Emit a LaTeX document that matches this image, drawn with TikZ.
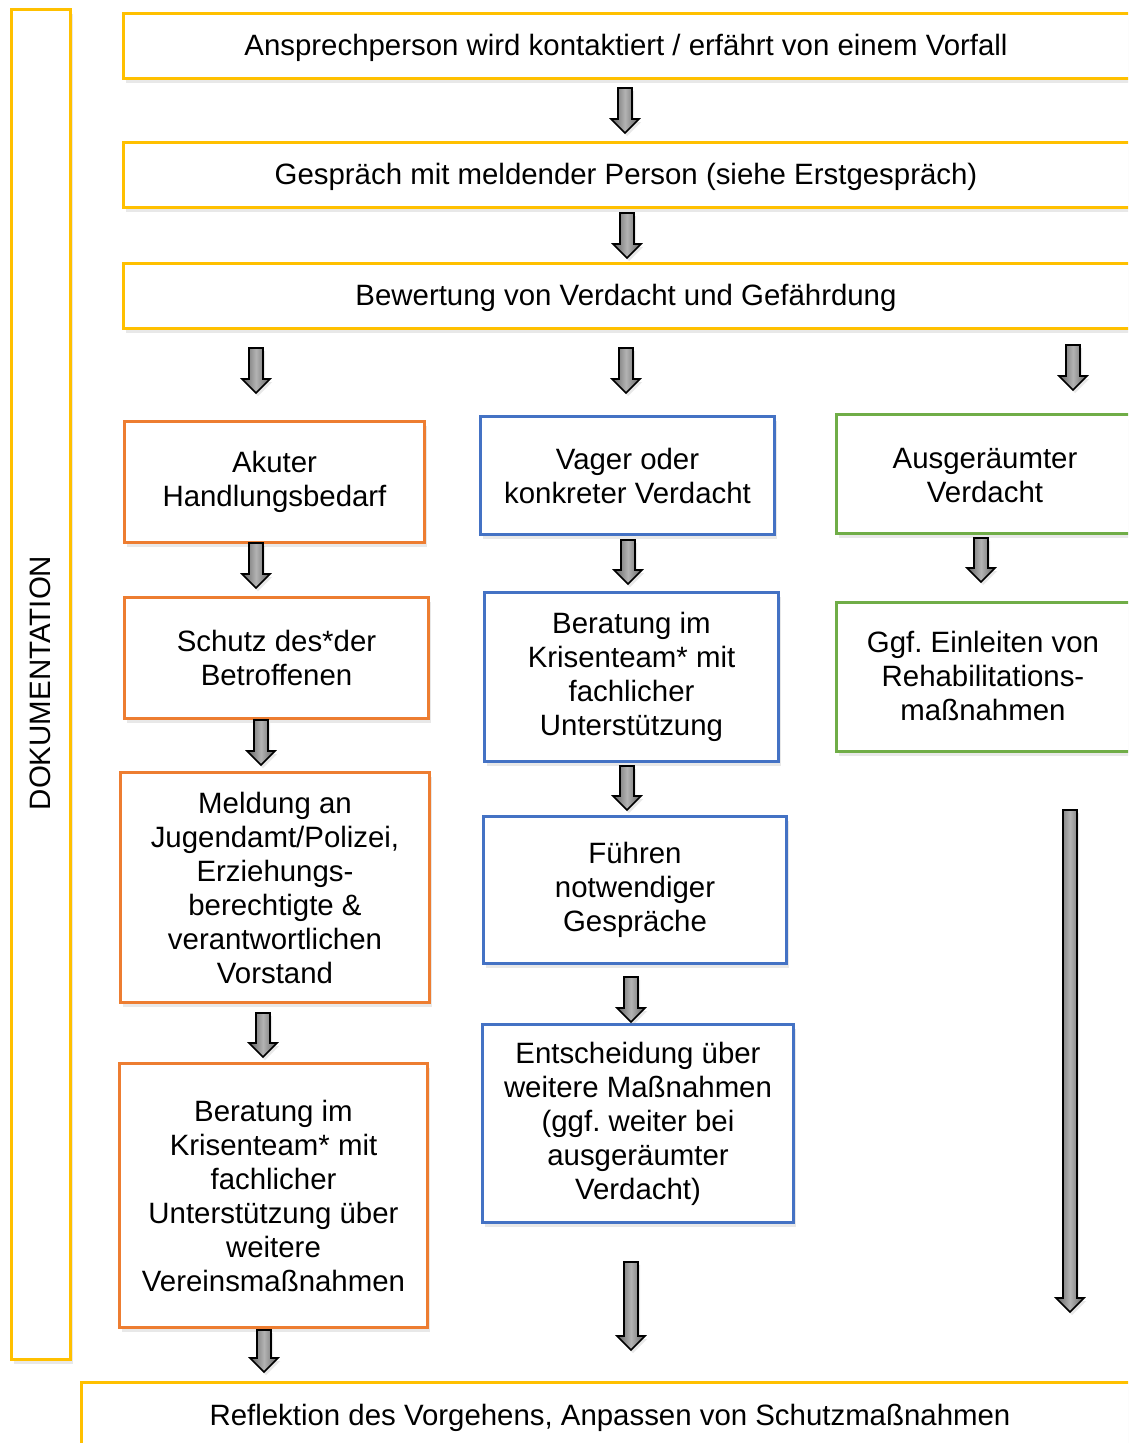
\documentclass[tikz,border=0pt]{standalone}
\usepackage{fontspec}
\setmainfont{Liberation Sans}
\frenchspacing
\usetikzlibrary{shadows}
\definecolor{cyel}{HTML}{FFC000}
\definecolor{cora}{HTML}{ED7D31}
\definecolor{cblu}{HTML}{4472C4}
\definecolor{cgrn}{HTML}{70AD47}
\newcommand\blockarr[3]{%
  \draw[line width=1.6pt, line join=miter, left color=black!62, right color=black!62, middle color=black!30,
        drop shadow={shadow xshift=2pt, shadow yshift=-3pt, opacity=.18}]
    (#1-7,#2) -- (#1+7,#2) -- (#1+7,#3-14) -- (#1+14,#3-14) -- (#1,#3)
    -- (#1-14,#3-14) -- (#1-7,#3-14) -- cycle;}
\tikzset{
  txt/.style={font=\fontsize{29.4}{34}\selectfont\frenchspacing, align=center, inner sep=0pt},
  box/.style={draw, line width=3pt, fill=white, anchor=north west, inner sep=0pt, txt,
    drop shadow={shadow xshift=2pt, shadow yshift=-4pt, opacity=.18}},
  ybox/.style={box, draw=cyel},
  obox/.style={box, draw=cora},
  bbox/.style={box, draw=cblu},
  gbox/.style={box, draw=cgrn},
}
\begin{document}
\begin{tikzpicture}[x=1pt,y=-1pt]
\clip (0,0) rectangle (1128,1443);
\fill[white] (0,0) rectangle (1128,1443);
% documentation
\node[ybox, minimum width=59pt, minimum height=1350pt] (doc) at (10,8) {};
\node[rotate=90, font=\fontsize{29.5}{34}\selectfont] (doct) at (40,683) {DOKUMENTATION};
% top boxes
\node[ybox, minimum width=1030pt, minimum height=65pt] (t1) at (122,12) {};
\node[txt] (t1t) at (626,48) {Ansprechperson wird kontaktiert / erfährt von einem Vorfall};
\node[ybox, minimum width=1030pt, minimum height=65pt] (t2) at (122,141) {};
\node[txt] (t2t) at (626,177) {Gespräch mit meldender Person (siehe Erstgespräch)};
\node[ybox, minimum width=1030pt, minimum height=65pt] (t3) at (122,262) {};
\node[txt] (t3t) at (626,298) {Bewertung von Verdacht und Gefährdung};
% columns
\node[obox, minimum width=300pt, minimum height=121pt] (a1) at (123,420) {Akuter\\Handlungsbedarf};
\node[bbox, minimum width=294pt, minimum height=118pt] (b1) at (479,415) {Vager oder\\konkreter Verdacht};
\node[gbox, minimum width=310pt, minimum height=119pt] (c1) at (835,413) {};
\node[txt] (c1t) at (985,476) {Ausgeräumter\\Verdacht};
\node[obox, minimum width=304pt, minimum height=121pt] (a2) at (123,596) {Schutz des*der\\Betroffenen};
\node[bbox, minimum width=294pt, minimum height=169pt] (b2) at (483,591) {Beratung im\\Krisenteam* mit\\fachlicher\\Unterstützung};
\node[gbox, minimum width=310pt, minimum height=149pt] (c2) at (835,601) {};
\node[txt] (c2t) at (983,676) {Ggf. Einleiten von\\Rehabilitations-\\maßnahmen};
\node[obox, minimum width=309pt, minimum height=230pt] (a3) at (119,771) {Meldung an\\Jugendamt/Polizei,\\Erziehungs-\\berechtigte \&\\verantwortlichen\\Vorstand};
\node[bbox, minimum width=303pt, minimum height=147pt] (b3) at (482,815) {Führen\\notwendiger\\Gespräche};
\node[obox, minimum width=308pt, minimum height=264pt] (a4) at (118,1062) {Beratung im\\Krisenteam* mit\\fachlicher\\Unterstützung über\\weitere\\Vereinsmaßnahmen};
\node[bbox, minimum width=311pt, minimum height=198pt] (b4) at (481,1023) {Entscheidung über\\weitere Maßnahmen\\(ggf. weiter bei\\ausgeräumter\\Verdacht)};
% bottom
\node[ybox, minimum width=1080pt, minimum height=100pt] (bot) at (80,1381) {};
\node[txt] (bott) at (610,1418) {Reflektion des Vorgehens, Anpassen von Schutzmaßnahmen};
% arrows
\blockarr{625}{88}{133}
\blockarr{627}{213}{258}
\blockarr{256}{348}{393}
\blockarr{626}{348}{393}
\blockarr{1073}{345}{390}
\blockarr{256}{543}{588}
\blockarr{628}{540}{584}
\blockarr{981}{538}{582}
\blockarr{261}{720}{765}
\blockarr{627}{766}{810}
\blockarr{1070}{810}{1312}
\blockarr{263}{1013}{1057}
\blockarr{631}{977}{1022}
\blockarr{631}{1262}{1350}
\blockarr{264}{1330}{1372}
\end{tikzpicture}
\end{document}
